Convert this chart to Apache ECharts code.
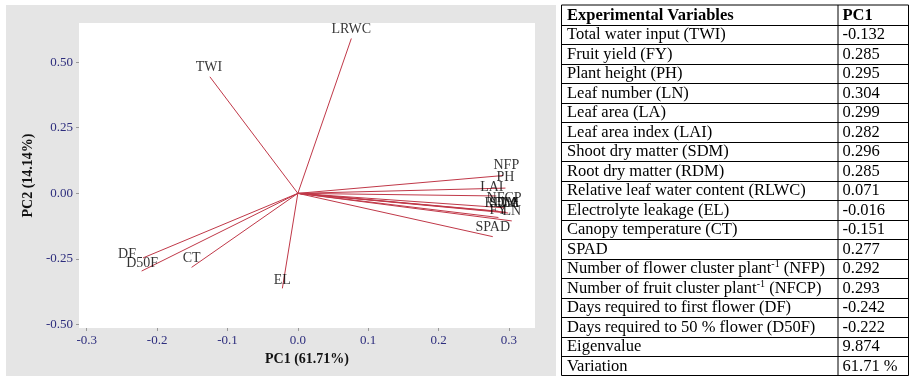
<!DOCTYPE html>
<html>
<head>
<meta charset="utf-8">
<script src="https://cdn.jsdelivr.net/npm/echarts@6/dist/echarts.min.js"></script>
<style>
  html, body { margin: 0; padding: 0; background: #ffffff; }
  #panel { position: absolute; left: 6px; top: 5px; width: 550px; height: 371px; background: #e5e5e5; }
  #chart { position: absolute; left: 0; top: 0; width: 910px; height: 376px; }
</style>
</head>
<body>
<div id="panel"></div>
<div id="chart"></div>
<script>
// ---- Biplot data (loadings) ----
const variables = ['TWI', 'LRWC', 'NFP', 'PH', 'LAI', 'NFCP', 'RDM', 'SDM', 'LA', 'FY', 'LN', 'SPAD', 'DF', 'D50F', 'CT', 'EL'];
const pc1Values = [-0.125, 0.076, 0.292, 0.295, 0.282, 0.293, 0.285, 0.296, 0.299, 0.285, 0.304, 0.277, -0.220, -0.222, -0.151, -0.022];
const pc2Values = [0.444, 0.590, 0.068, 0.020, -0.010, -0.055, -0.068, -0.072, -0.075, -0.092, -0.105, -0.165, -0.246, -0.296, -0.282, -0.362];
const xTicks = [-0.3, -0.2, -0.1, 0.0, 0.1, 0.2, 0.3];
const yTicks = [-0.5, -0.25, 0.0, 0.25, 0.5];
const xTitle = 'PC1 (61.71%)';
const yTitle = 'PC2 (14.14%)';

// ---- Table data ----
const tableHeader = ['Experimental Variables', 'PC1'];
const tableNames = [
  'Total water input (TWI)',
  'Fruit yield (FY)',
  'Plant height (PH)',
  'Leaf number (LN)',
  'Leaf area (LA)',
  'Leaf area index (LAI)',
  'Shoot dry matter (SDM)',
  'Root dry matter (RDM)',
  'Relative leaf water content (RLWC)',
  'Electrolyte leakage (EL)',
  'Canopy temperature (CT)',
  'SPAD',
  'Number of flower cluster plant{sup|-1} (NFP)',
  'Number of fruit cluster plant{sup|-1} (NFCP)',
  'Days required to first flower (DF)',
  'Days required to 50 % flower (D50F)',
  'Eigenvalue',
  'Variation'
];
const tablePC1 = ['-0.132', '0.285', '0.295', '0.304', '0.299', '0.282', '0.296', '0.285', '0.071', '-0.016', '-0.151', '0.277', '0.292', '0.293', '-0.242', '-0.222', '9.874', '61.71 %'];

// ---- styles ----
const SERIF = '"Liberation Serif", "DejaVu Serif", serif';
const lineColor = '#c03848';
const labelOffsets = {
  TWI: [-1, -9], LRWC: [0, -9.5], NFP: [3, -10], PH: [0, -11], LAI: [-4.5, -9],
  NFCP: [0, -9], RDM: [2, -8], SDM: [-2, -9], LA: [2, -10], FY: [0, -7], LN: [0, -10],
  SPAD: [0, -9], DF: [-16, -3.5], D50F: [0.5, -8], CT: [0, -9], EL: [0, -8.5]
};

const series = variables.map((v, i) => ({
  type: 'line',
  name: v,
  data: [[0, 0], [pc1Values[i], pc2Values[i]]],
  symbol: 'none',
  silent: true,
  lineStyle: { color: lineColor, width: 1 },
  z: 2
}));
series.push({
  type: 'scatter',
  symbolSize: 0,
  silent: true,
  z: 3,
  itemStyle: { color: 'transparent' },
  data: variables.map((v, i) => ({
    name: v,
    value: [pc1Values[i], pc2Values[i]],
    label: { offset: labelOffsets[v] || [0, -9] }
  })),
  label: {
    show: true,
    position: 'inside',
    formatter: '{b}',
    color: '#000000',
    textBorderWidth: 0,
    textBorderColor: 'transparent',
    textShadowBlur: 0,
    fontFamily: SERIF,
    fontSize: 14
  }
});

// ---- table graphics ----
const T = { left: 561.5, right: 908.5, divider: 838, top: 5, rowH: 19.5 };
const nRows = tableNames.length + 1;
const graphics = [];
const bottom = T.top + T.rowH * nRows;
graphics.push({ type: 'rect', shape: { x: T.left, y: T.top, width: T.right - T.left, height: bottom - T.top },
  style: { fill: '#ffffff', stroke: '#000', lineWidth: 1 }, silent: true });
graphics.push({ type: 'line', shape: { x1: T.divider, y1: T.top, x2: T.divider, y2: bottom },
  style: { stroke: '#000', lineWidth: 1 }, silent: true });
for (let r = 1; r < nRows; r++) {
  const y = Math.round(T.top + T.rowH * r) + 0.5;
  graphics.push({ type: 'line', shape: { x1: T.left, y1: y, x2: T.right, y2: y },
    style: { stroke: '#000', lineWidth: 1 }, silent: true });
}
const rowsText = [[tableHeader[0], tableHeader[1], true]].concat(tableNames.map((n, i) => [n, tablePC1[i], false]));
rowsText.forEach((row, r) => {
  const cy = T.top + T.rowH * (r + 0.5) + 0.5;
  const base = { fontFamily: SERIF, fontSize: 16.5, fill: '#000', fontWeight: row[2] ? 'bold' : 'normal', verticalAlign: 'middle', align: 'left' };
  graphics.push({ type: 'text', x: T.left + 5.5, y: cy, silent: true,
    style: Object.assign({}, base, { text: row[0], rich: { sup: { fontFamily: SERIF, fontSize: 10, fill: '#000', verticalAlign: 'top', padding: [0, 0, 8, 0] } } }) });
  graphics.push({ type: 'text', x: T.divider + 4.5, y: cy, silent: true,
    style: Object.assign({}, base, { text: row[1] }) });
});

const chart = echarts.init(document.getElementById('chart'), null, { renderer: 'canvas' });
chart.setOption({
  animation: false,
  backgroundColor: 'transparent',
  grid: { left: 79, right: 375, top: 23, bottom: 48, show: true, backgroundColor: '#ffffff', borderWidth: 0 },
  xAxis: {
    type: 'value', min: -0.311, max: 0.337,
    name: xTitle, nameLocation: 'middle', nameGap: 22,
    nameTextStyle: { fontFamily: SERIF, fontSize: 14, fontWeight: 'bold', color: '#111' },
    axisLine: { show: false, onZero: false },
    axisTick: { show: true, length: 3, customValues: xTicks, lineStyle: { color: '#999' } },
    axisLabel: { customValues: xTicks, margin: 6, fontFamily: SERIF, fontSize: 13, color: '#2d2d7d',
      formatter: v => (Math.abs(v) < 1e-9 ? 0 : v).toFixed(1) },
    splitLine: { show: false }
  },
  yAxis: {
    type: 'value', min: -0.513, max: 0.649,
    name: yTitle, nameLocation: 'middle', nameGap: 40, nameRotate: 90,
    nameTextStyle: { fontFamily: SERIF, fontSize: 14, fontWeight: 'bold', color: '#111' },
    axisLine: { show: false, onZero: false },
    axisTick: { show: true, length: 3, customValues: yTicks, lineStyle: { color: '#999' } },
    axisLabel: { customValues: yTicks, margin: 6, fontFamily: SERIF, fontSize: 13, color: '#2d2d7d',
      formatter: v => (Math.abs(v) < 1e-9 ? 0 : v).toFixed(2) },
    splitLine: { show: false }
  },
  graphic: graphics,
  series: series
});
</script>
</body>
</html>
